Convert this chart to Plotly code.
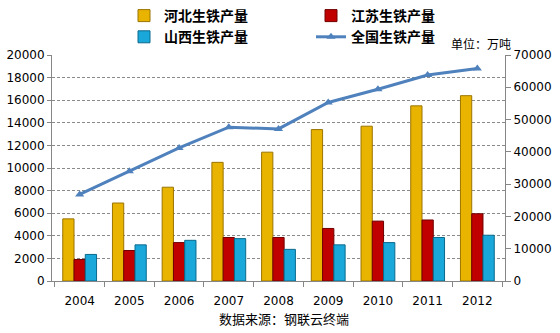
import plotly.graph_objects as go

years = ["2004", "2005", "2006", "2007", "2008", "2009", "2010", "2011", "2012"]
hebei = [5500, 6900, 8300, 10500, 11400, 13400, 13700, 15500, 16400]
jiangsu = [1900, 2700, 3400, 3850, 3850, 4650, 5300, 5400, 5950]
shanxi = [2350, 3200, 3600, 3750, 2800, 3200, 3400, 3850, 4050]
national = [26800, 34000, 41200, 47650, 47100, 55300, 59400, 63800, 65800]

left_ticks = list(range(0, 20001, 2000))
right_ticks = list(range(0, 70001, 10000))

cjk = "Noto Sans CJK SC"
fig = go.Figure()
fig.add_trace(go.Bar(x=years, y=hebei, name="河北生铁产量", legend="legend",
                     marker=dict(color="#E8B400", line=dict(color="#9A7400", width=1))))
fig.add_trace(go.Bar(x=years, y=jiangsu, name="江苏生铁产量", legend="legend2",
                     marker=dict(color="#C00000", line=dict(color="#700000", width=1))))
fig.add_trace(go.Bar(x=years, y=shanxi, name="山西生铁产量", legend="legend",
                     marker=dict(color="#1AA7DA", line=dict(color="#0B6A8C", width=1))))
fig.add_trace(go.Scatter(x=years, y=national, name="全国生铁产量", yaxis="y2", legend="legend2",
                         mode="lines+markers",
                         line=dict(color="#4F81BD", width=3),
                         marker=dict(symbol="triangle-up", size=8, color="#4F81BD")))

legend_font = dict(family=cjk, size=14, color="black", weight="bold")
tick_font = dict(family="DejaVu Sans", size=12, color="black")
fig.update_layout(
    width=560, height=333,
    margin=dict(l=52, r=55, t=55, b=52, autoexpand=False),
    paper_bgcolor="white", plot_bgcolor="white",
    barmode="group", bargap=0.32, bargroupgap=0.0,
    font=dict(family="DejaVu Sans", size=12, color="black"),
    showlegend=True,
    legend=dict(orientation="v", xref="container", yref="container",
                x=124 / 560, xanchor="left", y=1.04, yanchor="top",
                font=legend_font, traceorder="normal", itemwidth=30,
                tracegroupgap=0, bgcolor="rgba(0,0,0,0)"),
    legend2=dict(orientation="v", xref="container", yref="container",
                 x=311 / 560, xanchor="left", y=1.04, yanchor="top",
                 font=legend_font, traceorder="normal", itemwidth=30,
                 tracegroupgap=0, bgcolor="rgba(0,0,0,0)"),
    xaxis=dict(type="category", showline=True, linecolor="#868686", linewidth=1,
               ticks="outside", tickson="boundaries", ticklen=5, tickcolor="#868686",
               showgrid=False, tickfont=tick_font, ticklabelstandoff=9, automargin=False),
    yaxis=dict(range=[0, 20000], tickvals=left_ticks, tickformat="d", showline=True,
               linecolor="#868686", linewidth=1, ticks="outside", ticklen=4,
               tickcolor="#868686", showgrid=True, gridcolor="#8a8a8a", griddash="3px,2px",
               gridwidth=1, zeroline=False, tickfont=tick_font, automargin=False),
    yaxis2=dict(range=[0, 70000], tickvals=right_ticks, tickformat="d", overlaying="y",
                side="right", showline=True, linecolor="#868686", linewidth=1,
                ticks="outside", ticklen=5, tickcolor="#868686", showgrid=False,
                zeroline=False, tickfont=tick_font, automargin=False),
)

fig.add_annotation(text="单位：万吨", xref="paper", yref="paper", x=1.018, y=1.005,
                   xanchor="right", yanchor="bottom", showarrow=False,
                   font=dict(family=cjk, size=12, color="black"))
fig.add_annotation(text="数据来源：钢联云终端", xref="paper", yref="paper", x=0.512, y=-0.165,
                   xanchor="center", yanchor="middle", showarrow=False,
                   font=dict(family=cjk, size=13, color="black"))

fig.write_html("out.html")
